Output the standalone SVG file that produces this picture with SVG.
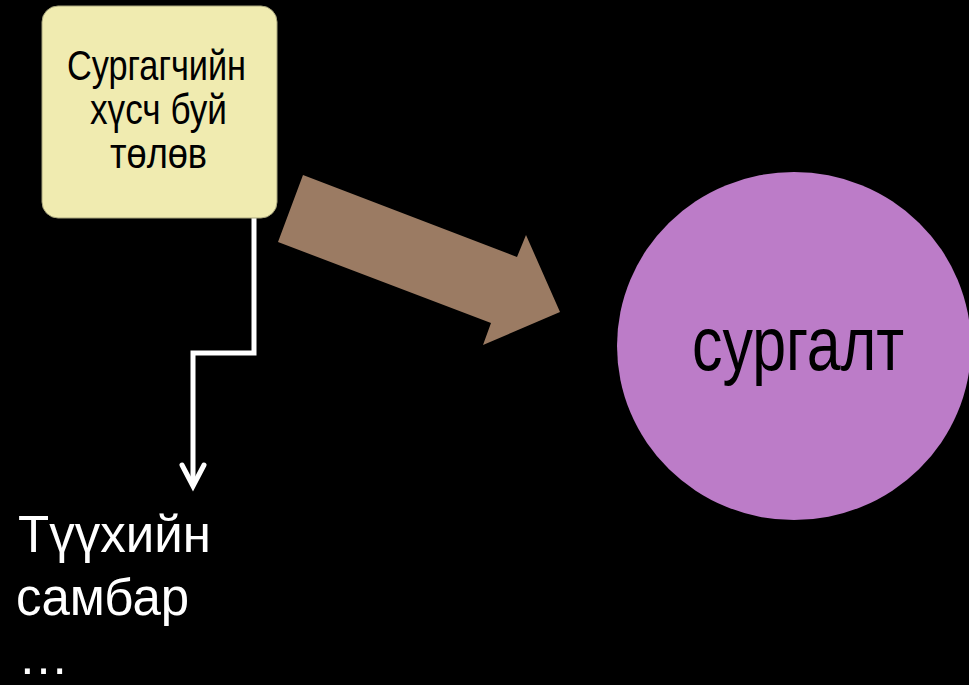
<svg xmlns="http://www.w3.org/2000/svg" width="969" height="685" viewBox="0 0 969 685">
<style>
.t{font-family:"Liberation Sans",Arial,sans-serif}
.dark{fill:#000}
.light{fill:#fff}
</style>
<rect width="969" height="685" fill="#000"/>
<g id="connectors">
<polyline points="254,218 254,353 193,353 193,486" fill="none" stroke="#fff" stroke-width="5" stroke-linejoin="miter"/>
<polyline points="182,465 193,486 204,465" fill="none" stroke="#fff" stroke-width="5" stroke-linecap="round" stroke-linejoin="miter"/>
<polygon id="big-arrow" points="303,175 517,257 526,235 560,312 483,345 491,323 278,242" fill="#9B7B63"/>
</g>
<g id="node-teacher">
<rect x="42" y="6" width="235" height="212" rx="16" fill="#F0EBB0" stroke="#a8a57c" stroke-width="1"/>
<text class="t dark" font-size="42">
<tspan x="67" y="80" textLength="179" lengthAdjust="spacingAndGlyphs">Сургагчийн</tspan>
<tspan x="90" y="124" textLength="137" lengthAdjust="spacingAndGlyphs">хүсч буй</tspan>
<tspan x="110" y="168" textLength="97" lengthAdjust="spacingAndGlyphs">төлөв</tspan>
</text>
</g>
<g id="node-training">
<ellipse cx="794" cy="346" rx="177" ry="174" fill="#BC7CC8"/>
<text class="t dark" font-size="76" x="692" y="370" textLength="212" lengthAdjust="spacingAndGlyphs">сургалт</text>
</g>
<g id="node-history">
<text class="t light" font-size="51">
<tspan x="18" y="552">Түүхийн</tspan>
<tspan x="16" y="615">самбар</tspan>
</text>
<text class="t light" font-size="51" x="18" y="674">…</text>
</g>
</svg>
